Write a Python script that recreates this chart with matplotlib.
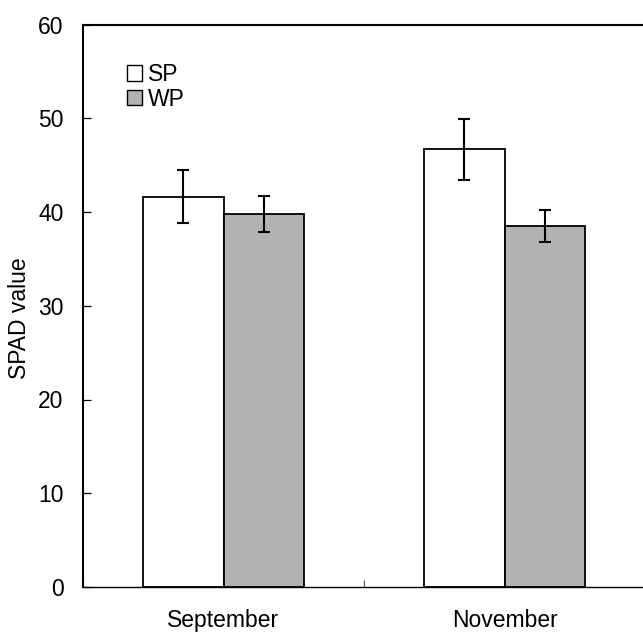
import numpy as np
import matplotlib.pyplot as plt
from matplotlib.patches import Patch

months = ["September", "November"]
sp_mean = [41.65, 46.7]
sp_err = [2.8, 3.25]
wp_mean = [39.8, 38.5]
wp_err = [1.95, 1.7]

plt.rcParams["font.family"] = ["Liberation Sans", "DejaVu Sans"]
plt.rcParams["font.size"] = 16.5

fig = plt.figure(figsize=(6.43, 6.33), dpi=100)
# axes runs slightly past the right edge, as in the original
ax = fig.add_axes([83 / 643, 1 - 587 / 633, 562 / 643, (587 - 24.5) / 633])

x = np.arange(len(months))
w = 0.286
err_kw = dict(elinewidth=1.5, capsize=4.5, capthick=1.5, ecolor="black")
ax.bar(x - w / 2, sp_mean, w, yerr=sp_err, color="white", edgecolor="black",
       linewidth=1.3, error_kw=err_kw, label="SP")
ax.bar(x + w / 2, wp_mean, w, yerr=wp_err, color="#b2b2b2", edgecolor="black",
       linewidth=1.3, error_kw=err_kw, label="WP")

ax.set_xlim(-0.5, 1.5)
ax.set_ylim(0, 60)
ax.set_yticks(range(0, 61, 10))
ax.set_xticks(x)
ax.set_xticklabels(months)
ax.set_xticks([-0.5, 0.5, 1.5], minor=True)
ax.tick_params(axis="x", which="major", length=0, pad=16)
ax.tick_params(axis="x", which="minor", direction="in", length=5, width=0.8,
               color="#555555")
ax.tick_params(axis="y", direction="in", length=6, width=0.9, pad=14)

for side in ["left", "top", "right"]:
    ax.spines[side].set_linewidth(1.5)
ax.spines["bottom"].set_linewidth(1.0)

ax.set_ylabel("SPAD value")
ax.yaxis.set_label_coords(-0.092, 0.478)

handles = [Patch(facecolor="white", edgecolor="black", linewidth=1.0),
           Patch(facecolor="#b2b2b2", edgecolor="black", linewidth=1.0)]
fig.legend(handles, ["SP", "WP"], loc="upper left",
           bbox_to_anchor=(127 / 643, 1 - 63 / 633), frameon=False,
           borderpad=0, borderaxespad=0, handlelength=0.65, handleheight=0.65,
           handletextpad=0.25, labelspacing=0.08)

fig.savefig("out.png", dpi=100)
